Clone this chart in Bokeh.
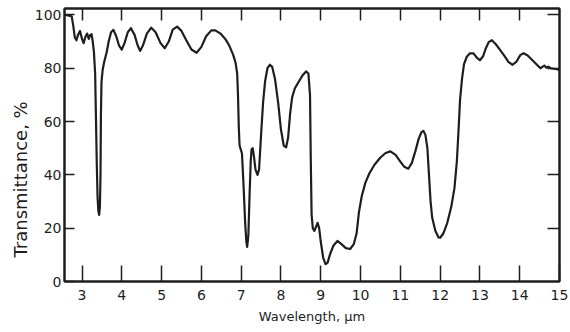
from bokeh.plotting import figure
from bokeh.models import LinearAxis, FixedTicker, Range1d, Title
from bokeh.embed import file_html
from bokeh.resources import INLINE

# Wavelength (µm) and transmittance (%)
wavelength = [
    2.58, 2.74, 2.78, 2.82, 2.86, 2.90, 2.95, 3.00, 3.04, 3.09, 3.13, 3.17, 3.21, 3.24,
    3.27, 3.30, 3.33, 3.35, 3.37, 3.39, 3.41, 3.43, 3.45, 3.465, 3.475, 3.49, 3.52, 3.56,
    3.62, 3.67, 3.73, 3.79, 3.86, 3.93, 4.00, 4.07, 4.15, 4.23, 4.32, 4.40, 4.46, 4.53,
    4.63, 4.74, 4.85, 4.97, 5.08, 5.18, 5.28, 5.39, 5.50, 5.62, 5.75, 5.88, 6.00, 6.12,
    6.25, 6.35, 6.48, 6.60, 6.70, 6.80, 6.86, 6.90, 6.92, 6.94, 6.96, 6.99, 7.02, 7.06,
    7.10, 7.13, 7.15, 7.18, 7.21, 7.24, 7.26, 7.29, 7.32, 7.36, 7.41, 7.45, 7.50, 7.55,
    7.60, 7.66, 7.72, 7.78, 7.85, 7.93, 8.00, 8.07, 8.13, 8.18, 8.23, 8.28, 8.35, 8.45,
    8.55, 8.63, 8.69, 8.73, 8.75, 8.77, 8.80, 8.84, 8.88, 8.92, 8.96, 9.00, 9.06, 9.12,
    9.17, 9.24, 9.32, 9.42, 9.52, 9.63, 9.74, 9.83, 9.90, 9.96, 10.03, 10.12, 10.22, 10.35,
    10.50, 10.63, 10.75, 10.88, 11.00, 11.10, 11.20, 11.29, 11.38, 11.46, 11.53, 11.58, 11.63, 11.68,
    11.72, 11.76, 11.80, 11.88, 11.96, 12.00, 12.08, 12.18, 12.28, 12.36, 12.42, 12.46, 12.50, 12.55,
    12.60, 12.67, 12.75, 12.84, 12.92, 13.00, 13.08, 13.15, 13.22, 13.30, 13.40, 13.51, 13.62, 13.72,
    13.82, 13.92, 14.02, 14.10, 14.20, 14.32, 14.42, 14.52, 14.57, 14.62, 14.67, 14.72, 14.78, 14.86,
    14.93, 15.00,
]
transmittance = [
    100.0, 99.5, 96.0, 91.5, 90.5, 92.5, 94.0, 91.0, 89.4, 92.0, 93.0, 91.0, 92.5, 92.8,
    90.0, 86.0, 78.0, 62.0, 45.0, 32.0, 26.5, 25.0, 28.0, 40.0, 62.0, 75.0, 79.5, 82.5,
    86.0, 90.0, 93.5, 94.4, 92.0, 88.5, 87.0, 89.5, 93.5, 95.0, 92.5, 88.5, 86.5, 88.5,
    93.0, 95.2, 93.5, 89.5, 87.5, 90.0, 94.5, 95.6, 94.0, 90.5, 87.0, 85.8, 88.0, 92.0,
    94.2, 94.2, 93.0, 91.0, 88.5, 85.0, 82.0, 78.0, 70.0, 58.0, 51.0, 49.5, 48.0, 36.0,
    22.0, 15.0, 13.0, 17.0, 32.0, 45.0, 49.5, 50.0, 47.0, 42.0, 40.0, 42.0, 55.0, 67.0,
    75.0, 80.0, 81.3, 80.5, 76.0, 67.0, 57.0, 51.0, 50.3, 54.0, 63.0, 69.0, 72.5, 75.0,
    77.5, 78.8, 78.0, 70.0, 45.0, 25.0, 20.0, 19.0, 20.5, 22.0, 20.0, 15.0, 9.0, 6.5,
    7.0, 10.5, 13.5, 15.2, 14.0, 12.5, 12.2, 14.0, 18.0, 26.0, 32.0, 37.0, 40.5, 43.8,
    46.5, 48.2, 48.8, 47.5, 45.0, 43.0, 42.3, 44.5, 49.0, 53.5, 56.0, 56.5, 55.0, 50.0,
    40.0, 30.0, 24.0, 19.0, 16.5, 16.4, 18.0, 22.0, 28.0, 35.0, 45.0, 56.0, 68.0, 76.0,
    81.5, 84.3, 85.6, 85.6, 84.0, 83.0, 84.5, 87.5, 89.8, 90.5, 89.0, 86.8, 84.5, 82.3,
    81.3, 82.5, 85.0, 85.6, 84.8, 83.0, 81.5, 80.0, 80.5, 81.0, 80.2, 80.6, 80.0, 79.8,
    79.6, 79.4,
]

x_ticks = [3, 4, 5, 6, 7, 8, 9, 10, 11, 12, 13, 14, 15]
y_ticks = [0, 20, 40, 60, 80, 100]

INK = "#1e1e1e"
FONT = "DejaVu Sans"

p = figure(
    width=570, height=332,
    output_backend="svg", toolbar_location=None,
    x_range=Range1d(2.56, 15.0), y_range=Range1d(0, 102.4),
    min_border_left=64, min_border_right=11, min_border_top=8, min_border_bottom=51,
    background_fill_color="white", border_fill_color="white",
)
p.grid.visible = False
p.outline_line_color = INK
p.outline_line_width = 2

p.line(wavelength, transmittance, line_color=INK, line_width=2.2, line_join="round")

# bottom axis
xa = p.xaxis[0]
xa.ticker = FixedTicker(ticks=x_ticks)
xa.axis_label = "Wavelength, \u00b5m"
xa.major_tick_in = 16
xa.major_tick_out = 0
xa.minor_tick_line_color = None
xa.major_label_standoff = 8
xa.axis_label_standoff = 6
xa.axis_label_text_font_size = "13px"

# left axis
ya = p.yaxis[0]
ya.ticker = FixedTicker(ticks=y_ticks)
ya.major_tick_in = 10
ya.major_tick_out = 0
ya.minor_tick_line_color = None
ya.major_label_standoff = 3

for ax in (xa, ya):
    ax.axis_line_color = INK
    ax.axis_line_width = 2
    ax.major_tick_line_color = INK
    ax.major_tick_line_width = 1.5
    ax.major_label_text_font = FONT
    ax.major_label_text_font_size = "14px"
    ax.major_label_text_color = INK
    ax.axis_label_text_font = FONT
    ax.axis_label_text_font_style = "normal"
    ax.axis_label_text_color = INK

# y axis title (placed lower than centre, as in the reference)
ytitle = Title(text="Transmittance, %", align="left", offset=24,
               text_font=FONT, text_font_size="18px", text_font_style="normal",
               text_color=INK, standoff=2)
p.add_layout(ytitle, "left")

# top and right axes: inward ticks, no labels
top_ticks = x_ticks[:-1]
right_ticks = [20, 40, 60, 80, 100]
top = LinearAxis(ticker=FixedTicker(ticks=top_ticks),
                 major_label_overrides={t: "" for t in top_ticks})
right = LinearAxis(ticker=FixedTicker(ticks=right_ticks),
                   major_label_overrides={t: "" for t in right_ticks})
top.major_tick_in = 12
right.major_tick_in = 12
for ax in (top, right):
    ax.major_tick_out = 0
    ax.minor_tick_line_color = None
    ax.major_label_standoff = 0
    ax.axis_line_color = INK
    ax.axis_line_width = 2
    ax.major_tick_line_color = INK
    ax.major_tick_line_width = 1.5
p.add_layout(top, "above")
p.add_layout(right, "right")

open("out.html", "w").write(file_html(p, INLINE))
